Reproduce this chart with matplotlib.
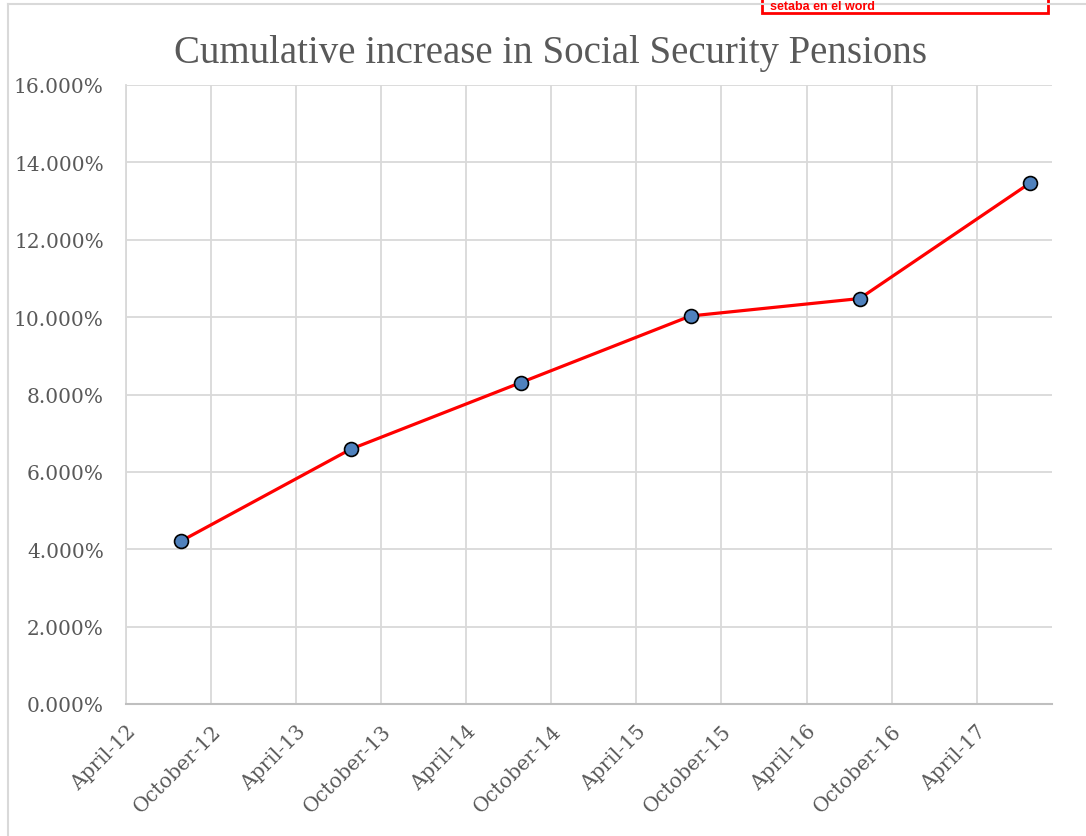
import datetime as dt

import matplotlib
matplotlib.use("Agg")
import matplotlib.pyplot as plt
from matplotlib.lines import Line2D
from matplotlib.patches import Rectangle
from matplotlib.ticker import FuncFormatter, MultipleLocator


# data
dates = [dt.date(2012, 7, 28), dt.date(2013, 7, 28), dt.date(2014, 7, 28),
         dt.date(2015, 7, 27), dt.date(2016, 7, 24), dt.date(2017, 7, 24)]
cum_increase = [4.21, 6.59, 8.31, 10.03, 10.48, 13.46]

tick_dates = [dt.date(2012 + i // 2, 4 if i % 2 == 0 else 10, 1) for i in range(11)]
tick_labels = ["April-12", "October-12", "April-13", "October-13", "April-14",
               "October-14", "April-15", "October-15", "April-16", "October-16",
               "April-17"]

TEXT = "#595959"
GRID = "#d9d9d9"
TICK_FONT = ["DejaVu Serif"]
TITLE_FONT = ["Liberation Serif", "DejaVu Serif"]

W, H = 1086, 837
fig = plt.figure(figsize=(W / 100, H / 100), dpi=100)
ax = fig.add_axes([126 / W, 1 - 705 / H, (1052 - 126) / W, (705 - 86) / H])

ax.plot(dates, cum_increase, color="#ff0000", linewidth=2.3, marker="o",
        markersize=10, markerfacecolor="#4f81bd", markeredgecolor="black",
        markeredgewidth=1.2, zorder=3)

ax.set_xlim(dt.date(2012, 4, 1), dt.date(2017, 9, 10))
ax.set_ylim(0, 16)
ax.yaxis.set_major_locator(MultipleLocator(2))
ax.yaxis.set_major_formatter(FuncFormatter(lambda v, p: f"{v:.3f}%"))
ax.set_xticks(tick_dates)
ax.set_xticklabels(tick_labels, rotation=45, ha="right", rotation_mode="anchor")

ax.grid(True, color=GRID, linewidth=1.3)
ax.set_axisbelow(True)
for s in ["top", "right"]:
    ax.spines[s].set_visible(False)
ax.spines["left"].set_color(GRID)
ax.spines["left"].set_linewidth(1.3)
ax.spines["bottom"].set_color("#bfbfbf")
ax.spines["bottom"].set_linewidth(1.5)
ax.tick_params(length=0, colors=TEXT, labelsize=14.5)
ax.tick_params(axis="y", pad=16)
ax.tick_params(axis="x", pad=12)
for lbl in ax.get_xticklabels() + ax.get_yticklabels():
    lbl.set_family(TICK_FONT)

fig.text(551 / W, 1 - 53 / H, "Cumulative increase in Social Security Pensions",
         ha="center", va="center", fontsize=28, color=TEXT, family=TITLE_FONT)

# chart frame and the red note box at the top edge
fig.add_artist(Line2D([8 / W, 8 / W], [0, 1 - 5 / H], color=GRID, linewidth=1.5))
fig.add_artist(Line2D([8 / W, 1], [1 - 5 / H, 1 - 5 / H], color=GRID, linewidth=1.5))
fig.add_artist(Rectangle((762 / W, 1 - 14 / H), (1048 - 762) / W, 30 / H,
                         transform=fig.transFigure, facecolor="white",
                         edgecolor="#ff0000", linewidth=2))
fig.text(770 / W, 1 - 1 / H, "setaba en el word", ha="left", va="top",
         fontsize=9, color="#ff0000", fontweight="bold", family="Liberation Sans")

plt.savefig("out.png", dpi=100)
plt.close()
